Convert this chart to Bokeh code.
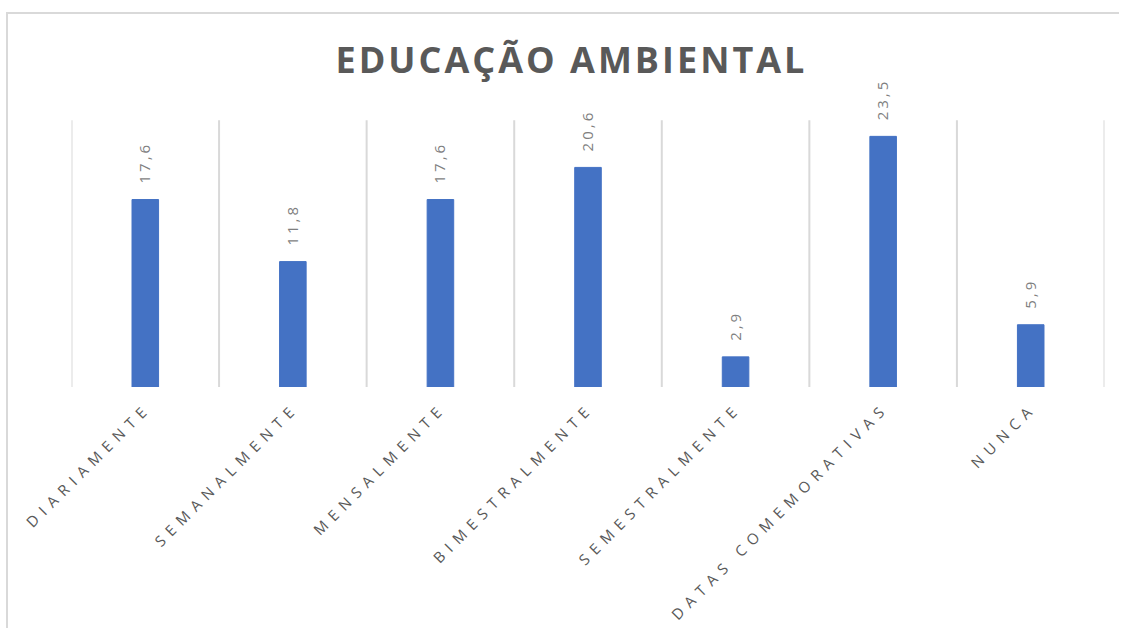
import math
from math import pi
from bokeh.plotting import figure
from bokeh.layouts import column
from bokeh.models import ColumnDataSource, FactorRange, Range1d, Span
from bokeh.transform import dodge
from bokeh.core.properties import value
from bokeh.embed import file_html
from bokeh.resources import INLINE

title_text = "EDUCAÇÃO  AMBIENTAL"
categories = ["DIARIAMENTE", "SEMANALMENTE", "MENSALMENTE", "BIMESTRALMENTE",
              "SEMESTRALMENTE", "DATAS COMEMORATIVAS", "NUNCA"]
values = [17.6, 11.8, 17.6, 20.6, 2.9, 23.5, 5.9]
value_labels = ["17,6", "11,8", "17,6", "20,6", "2,9", "23,5", "5,9"]
axis_max = 25

GRID = "#d9d9d9"
W = 1113
BORDER_L, BORDER_R = 63, 17
label_spacing = 6.5  # css letter spacing of the category labels (px)

src = ColumnDataSource(data=dict(cat=categories, val=values, lab=value_labels,
                                 zero=[0] * len(categories), top=[axis_max] * len(categories)))

x_range = FactorRange(*categories)

# ---------------- main chart ----------------
p = figure(x_range=x_range, y_range=Range1d(-0.15, 29),
           width=W, height=375, output_backend="svg", toolbar_location=None,
           min_border_left=BORDER_L, min_border_right=BORDER_R, min_border_top=63, min_border_bottom=0)
p.frame_align = False
p.styles = {"margin-left": "6px", "margin-top": "12px", "letter-spacing": "3px",
            "border-left": "2px solid #d9d9d9", "border-top": "2px solid #d9d9d9"}
p.outline_line_color = None
p.background_fill_color = "white"
p.border_fill_color = "white"

p.title.text = title_text
p.title.align = "left"
p.title.offset = 264
p.title.text_font = "Open Sans"
p.title.text_font_style = "bold"
p.title.text_font_size = "36px"
p.title.text_color = "#595959"
p.title.standoff = -13

p.xgrid.grid_line_color = None
p.ygrid.grid_line_color = None
p.xaxis.visible = False
p.yaxis.visible = False

# category separators
p.segment(x0=dodge("cat", -0.5, range=x_range), x1=dodge("cat", -0.5, range=x_range),
          y0="zero", y1="top", source=src, line_color=GRID, line_width=2)
last = ColumnDataSource(data=dict(cat=categories[-1:], zero=[0], top=[axis_max]))
p.segment(x0=dodge("cat", 0.5, range=x_range), x1=dodge("cat", 0.5, range=x_range),
          y0="zero", y1="top", source=last, line_color=GRID, line_width=2)

p.vbar(x="cat", top="val", width=0.18, source=src, color="#4472C4")
p.add_layout(Span(location=0, dimension="width", line_color=GRID, line_width=2))

p.text(x="cat", y="val", text="lab", source=src, angle=pi / 2, y_offset=-16,
       text_align="left", text_baseline="middle", text_font=value("Open Sans"),
       text_font_size="15px", text_color="#7f7f7f")

# ---------------- category labels (full-width frame, same category positions) ----------------
n = len(categories)
unit = (W - BORDER_L - BORDER_R) / n
shift = [label_spacing * (len(c) - 1) * math.sqrt(0.5) for c in categories]
lab_src = ColumnDataSource(data=dict(cat=categories, pos=[i + 0.5 for i in range(n)],
                                     zero=[0] * n,
                                     xo=[-2 - s for s in shift], yo=[22 + s for s in shift]))

q = figure(x_range=Range1d(-BORDER_L / unit, n + BORDER_R / unit), y_range=Range1d(-241, 0),
           width=W, height=241, output_backend="svg", toolbar_location=None,
           min_border_left=0, min_border_right=0, min_border_top=0, min_border_bottom=0)
q.frame_align = False
q.styles = {"margin-left": "6px", "letter-spacing": f"{label_spacing}px",
            "border-left": "2px solid #d9d9d9"}
q.outline_line_color = None
q.background_fill_color = "white"
q.border_fill_color = "white"
q.xgrid.grid_line_color = None
q.ygrid.grid_line_color = None
q.xaxis.visible = False
q.yaxis.visible = False
q.text(x="pos", y="zero", text="cat", source=lab_src, angle=pi / 4,
       x_offset="xo", y_offset="yo", text_align="right", text_baseline="middle",
       text_font=value("Open Sans"), text_font_size="15px", text_color="#595959")

layout = column(p, q, spacing=0)
open("out.html", "w").write(file_html(layout, INLINE))
